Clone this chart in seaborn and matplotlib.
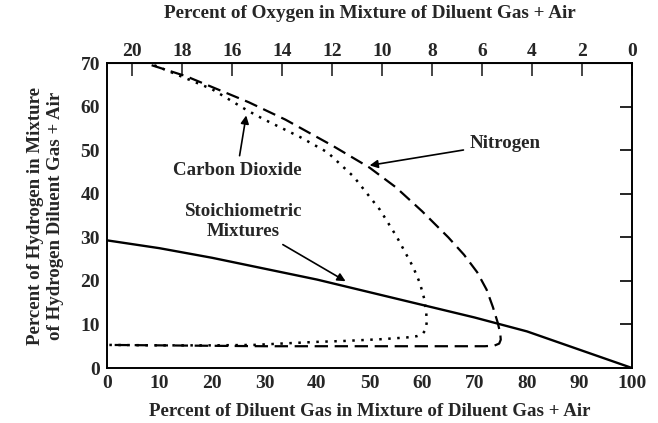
import matplotlib
matplotlib.use("Agg")
import matplotlib.pyplot as plt
import seaborn as sns

# --- DATA ---
# Nitrogen flammability boundary (dashed): upper branch, nose, lower branch
n2_x = [8.5, 15, 20, 27, 34, 43, 50, 55, 60, 65, 68, 70.5, 72.3, 73.5, 74.4, 74.9, 75, 74.7, 73.8, 72, 60, 50, 40, 30, 20, 10, 0]
n2_y = [69.5, 67, 64.5, 61, 57, 51, 46, 41.5, 36, 30, 26, 22, 18, 14, 10.5, 8, 6.5, 5.6, 5.15, 5.0, 5.0, 5.0, 5.0, 5.0, 5.1, 5.2, 5.3]

# Carbon dioxide boundary (dotted)
co2_x = [9, 15, 20, 26.6, 30, 36.8, 42, 47, 52, 55.2, 58.3, 59.6, 60.4, 60.8, 60.9, 60.7, 60.1, 59, 57, 52, 45, 40, 33, 28, 20, 10, 0]
co2_y = [69.5, 66.5, 64, 59.2, 57, 53, 49.5, 43.9, 36.3, 30.1, 23.2, 19.5, 16, 13, 10.5, 8.8, 7.8, 7.3, 7.0, 6.6, 6.2, 6.0, 5.6, 5.3, 5.2, 5.2, 5.3]

# Stoichiometric mixtures (solid)
st_x = [0, 10, 20, 30, 40, 50, 60, 70, 80, 90, 100]
st_y = [29.3, 27.5, 25.3, 22.8, 20.3, 17.4, 14.5, 11.6, 8.4, 4.2, 0]

x_ticks = list(range(0, 101, 10))
y_ticks = list(range(0, 71, 10))
o2_ticks = list(range(20, -1, -2))

sns.set_style("white")
plt.rcParams['font.family'] = ['Liberation Serif', 'DejaVu Serif']
plt.rcParams['font.weight'] = 'bold'

fig = plt.figure(figsize=(6.58, 4.23), dpi=100)
ax = fig.add_axes([0.1626, 0.130, 0.7979, 0.721])

sns.lineplot(x=n2_x, y=n2_y, sort=False, estimator=None, ax=ax, color='black',
             linewidth=1.6, linestyle=(0, (6, 3)))
sns.lineplot(x=co2_x, y=co2_y, sort=False, estimator=None, ax=ax, color='black',
             linewidth=1.8, linestyle=(0, (1, 2.6)))
sns.lineplot(x=st_x, y=st_y, sort=False, estimator=None, ax=ax, color='black',
             linewidth=1.7, linestyle='-')

ax.set_xlim(0, 100)
ax.set_ylim(0, 70)
ax.set_xticks(x_ticks)
ax.set_yticks(y_ticks)
ax.tick_params(axis='both', direction='in', length=9, width=1.2, labelsize=14, pad=5,
               right=True, color='black')
for lab in ax.get_xticklabels() + ax.get_yticklabels():
    lab.set_fontweight('bold')
for sp in ax.spines.values():
    sp.set_color('black')
    sp.set_linewidth(1.4)

ax.set_xlabel('Percent of Diluent Gas in Mixture of Diluent Gas + Air',
              fontsize=13.6, fontweight='bold', labelpad=8)
ax.set_ylabel('Percent of Hydrogen in Mixture\nof Hydrogen Diluent Gas + Air',
              fontsize=13.6, fontweight='bold', labelpad=12)

# Top axis: oxygen content of the diluent + air mixture
top = ax.secondary_xaxis('top', functions=(lambda x: 21 * (1 - x / 100),
                                           lambda o: 100 * (1 - o / 21)))
top.set_xticks(o2_ticks)
top.tick_params(direction='in', length=9, width=1.2, labelsize=14, pad=2)
for lab in top.get_xticklabels():
    lab.set_fontweight('bold')
top.set_xlabel('Percent of Oxygen in Mixture of Diluent Gas + Air',
               fontsize=13.8, fontweight='bold', labelpad=18)

arrow = dict(arrowstyle='-|>', color='black', lw=1.2, mutation_scale=12)
ax.annotate('Carbon Dioxide', xy=(26.6, 58.6), xytext=(24.8, 45.4),
            ha='center', va='center', fontsize=13.6, fontweight='bold', arrowprops=arrow)
ax.annotate('Nitrogen', xy=(49.5, 46.4), xytext=(75.8, 51.6),
            ha='center', va='center', fontsize=13.6, fontweight='bold', arrowprops=arrow)
ax.annotate('Stoichiometric\nMixtures', xy=(45.9, 19.6), xytext=(26, 33.6),
            ha='center', va='center', fontsize=13.6, fontweight='bold', arrowprops=arrow)

fig.savefig('out.png', dpi=100)
